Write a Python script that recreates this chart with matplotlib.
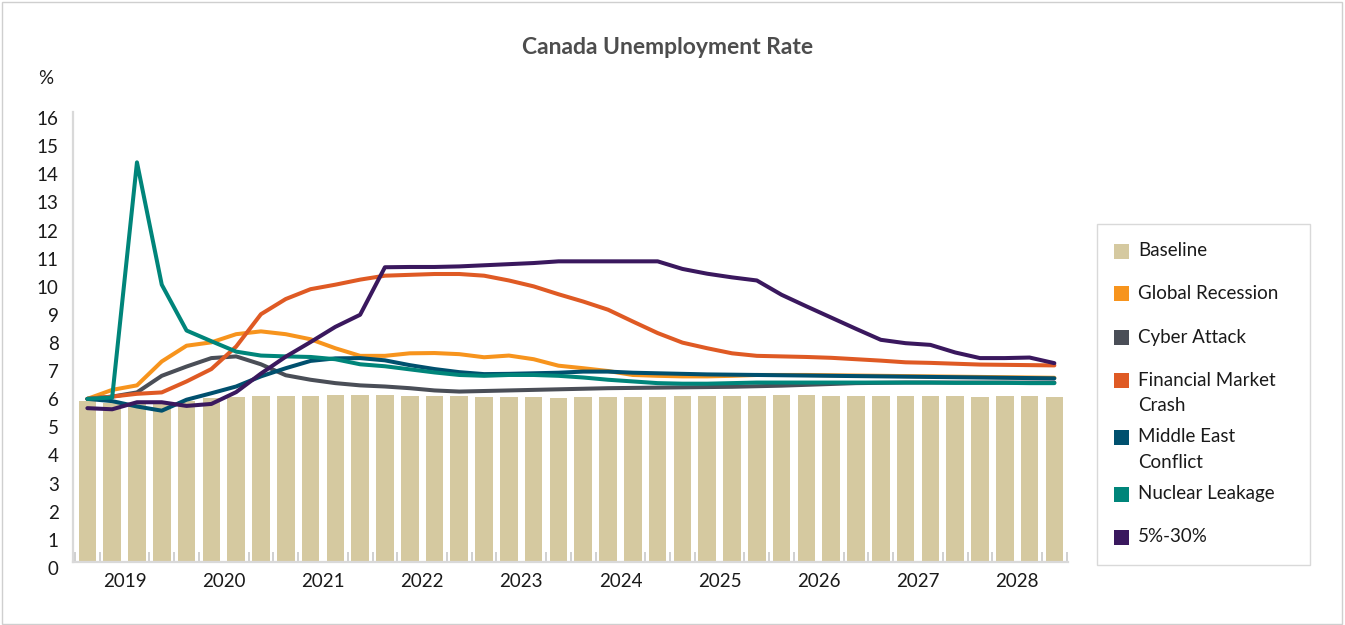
import matplotlib
matplotlib.use("Agg")
import matplotlib.pyplot as plt
from matplotlib.patches import Rectangle
from matplotlib.transforms import ScaledTranslation
import numpy as np

# ---------------- data ----------------
years = [2019, 2020, 2021, 2022, 2023, 2024, 2025, 2026, 2027, 2028]
quarters = [f"{y}Q{q}" for y in years for q in (1, 2, 3, 4)]

baseline = [5.74, 5.67, 5.67, 5.67, 5.74, 5.82, 5.88, 5.92, 5.92, 5.92,
            5.94, 5.94, 5.94, 5.92, 5.92, 5.92, 5.88, 5.88, 5.86, 5.84,
            5.86, 5.86, 5.86, 5.86, 5.90, 5.90, 5.90, 5.90, 5.94, 5.94,
            5.90, 5.90, 5.90, 5.90, 5.90, 5.90, 5.86, 5.90, 5.90, 5.86]

global_recession = [5.80, 6.12, 6.28, 7.13, 7.69, 7.81, 8.10, 8.20, 8.10, 7.92,
                    7.60, 7.33, 7.33, 7.42, 7.43, 7.39, 7.28, 7.34, 7.21, 6.98,
                    6.89, 6.79, 6.65, 6.62, 6.60, 6.60, 6.62, 6.65, 6.65, 6.65,
                    6.64, 6.63, 6.62, 6.61, 6.60, 6.59, 6.58, 6.57, 6.56, 6.55]

cyber_attack = [5.80, 5.88, 6.03, 6.62, 6.95, 7.25, 7.31, 7.03, 6.64, 6.48,
                6.36, 6.28, 6.24, 6.18, 6.10, 6.06, 6.08, 6.10, 6.12, 6.14,
                6.16, 6.18, 6.19, 6.20, 6.21, 6.22, 6.23, 6.25, 6.27, 6.30,
                6.33, 6.36, 6.37, 6.38, 6.38, 6.38, 6.38, 6.38, 6.38, 6.38]

financial_crash = [5.80, 5.88, 5.98, 6.03, 6.42, 6.86, 7.66, 8.81, 9.35, 9.70,
                   9.86, 10.04, 10.18, 10.21, 10.24, 10.24, 10.18, 10.01, 9.80, 9.52,
                   9.26, 8.97, 8.55, 8.14, 7.80, 7.60, 7.42, 7.33, 7.31, 7.29,
                   7.26, 7.21, 7.16, 7.10, 7.08, 7.05, 7.02, 7.01, 7.00, 6.99]

middle_east = [5.80, 5.72, 5.53, 5.38, 5.77, 6.00, 6.24, 6.60, 6.89, 7.15,
               7.24, 7.25, 7.17, 7.00, 6.86, 6.75, 6.68, 6.69, 6.71, 6.73,
               6.77, 6.77, 6.73, 6.71, 6.69, 6.67, 6.66, 6.65, 6.64, 6.63,
               6.62, 6.61, 6.60, 6.59, 6.58, 6.57, 6.56, 6.55, 6.54, 6.53]

nuclear_leakage = [5.80, 5.85, 14.21, 9.86, 8.23, 7.85, 7.48, 7.34, 7.31, 7.29,
                   7.21, 7.03, 6.96, 6.85, 6.74, 6.65, 6.62, 6.65, 6.65, 6.62,
                   6.56, 6.48, 6.42, 6.36, 6.34, 6.34, 6.36, 6.38, 6.38, 6.38,
                   6.38, 6.38, 6.38, 6.38, 6.38, 6.37, 6.37, 6.37, 6.36, 6.36]

pct_5_30 = [5.47, 5.43, 5.68, 5.68, 5.55, 5.62, 6.04, 6.70, 7.30, 7.82,
            8.36, 8.79, 10.48, 10.49, 10.49, 10.51, 10.55, 10.59, 10.63, 10.69,
            10.69, 10.69, 10.69, 10.69, 10.42, 10.25, 10.12, 10.01, 9.50, 9.09,
            8.69, 8.29, 7.90, 7.78, 7.72, 7.45, 7.25, 7.25, 7.27, 7.07]

line_names = ["Global Recession", "Cyber Attack", "Financial Market\nCrash",
              "Middle East\nConflict", "Nuclear Leakage", "5%-30%"]
line_series = [global_recession, cyber_attack, financial_crash,
               middle_east, nuclear_leakage, pct_5_30]
line_colors = ["#F7941D", "#4A4E57", "#DF5A24", "#00506E", "#00857A", "#3A185E"]
bar_name = "Baseline"
bar_color = "#D5C9A0"

FONT = ["Lato", "DejaVu Sans"]
plt.rcParams["font.family"] = FONT
FS = 13.5

W, H = 1345, 625
fig = plt.figure(figsize=(W / 100, H / 100), dpi=100)

def fx(px):
    return px / W

def fy(py):
    return 1 - py / H

# axes placement (pixels)
ax_l, ax_r, ax_t, ax_b = 72.5, 1068, 112, 562
ax = fig.add_axes([fx(ax_l), fy(ax_b), fx(ax_r) - fx(ax_l), fy(ax_t) - fy(ax_b)])

x = np.arange(len(quarters))
ax.bar(x, baseline, width=0.71, color=bar_color, zorder=2)
for vals, col in zip(line_series, line_colors):
    ax.plot(x, vals, color=col, lw=2.9, zorder=3, solid_capstyle="round",
            solid_joinstyle="round")

ax.set_xlim(-0.6, 39.55)
ax.set_ylim(0, 16)
ax.set_yticks(range(0, 17))
ax.set_yticklabels([str(v) for v in range(0, 17)], fontsize=FS, color="#1a1a1a")
ax.tick_params(axis="y", length=0, pad=10)
for lab in ax.get_yticklabels():
    lab.set_transform(lab.get_transform() + ScaledTranslation(0, -6 / 100, fig.dpi_scale_trans))
    lab.set_horizontalalignment("right")

year_pos = [4 * k + 1.5 for k in range(len(years))]
ax.set_xticks(year_pos)
ax.set_xticklabels([str(y) for y in years], fontsize=FS, color="#1a1a1a")
ax.tick_params(axis="x", which="major", length=0, pad=8)
ax.set_xticks(np.arange(-0.5, 40, 1.0), minor=True)
ax.tick_params(axis="x", which="minor", direction="in", length=7, width=1.4,
               color="#d0d0d0")

for side in ("top", "right"):
    ax.spines[side].set_visible(False)
for side in ("left", "bottom"):
    ax.spines[side].set_color("#d9d9d9")
    ax.spines[side].set_linewidth(1.6)

# title and unit
fig.text(fx(668), fy(47), "Canada Unemployment Rate", ha="center", va="center",
         fontsize=16.5, fontweight="bold", color="#4D4D4D")
fig.text(fx(46), fy(78), "%", ha="center", va="center", fontsize=FS, color="#1a1a1a")

# outer frame
fig.add_artist(Rectangle((fx(1.5), fy(623.5)), fx(1342) - fx(1.5), fy(1.5) - fy(623.5),
                         transform=fig.transFigure, fill=False, edgecolor="#cfcfcf",
                         lw=1.0))

# legend box
fig.add_artist(Rectangle((fx(1097), fy(565)), fx(1310) - fx(1097), fy(224) - fy(565),
                         transform=fig.transFigure, fill=False, edgecolor="#d9d9d9",
                         lw=1.0))
leg_names = [bar_name] + line_names
leg_colors = [bar_color] + line_colors
leg_y = [251, 294, 337, 380, 437, 494, 537]
for name, col, yy in zip(leg_names, leg_colors, leg_y):
    fig.add_artist(Rectangle((fx(1114), fy(yy + 7.5)), fx(15), fy(0) - fy(15),
                             transform=fig.transFigure, color=col, lw=0))
    parts = name.split("\n")
    fig.text(fx(1138), fy(yy), parts[0], ha="left", va="center",
             fontsize=FS, color="#1a1a1a")
    if len(parts) > 1:
        fig.text(fx(1138), fy(yy + 25.5), parts[1], ha="left", va="center",
                 fontsize=FS, color="#1a1a1a")

fig.savefig("out.png", dpi=100)
